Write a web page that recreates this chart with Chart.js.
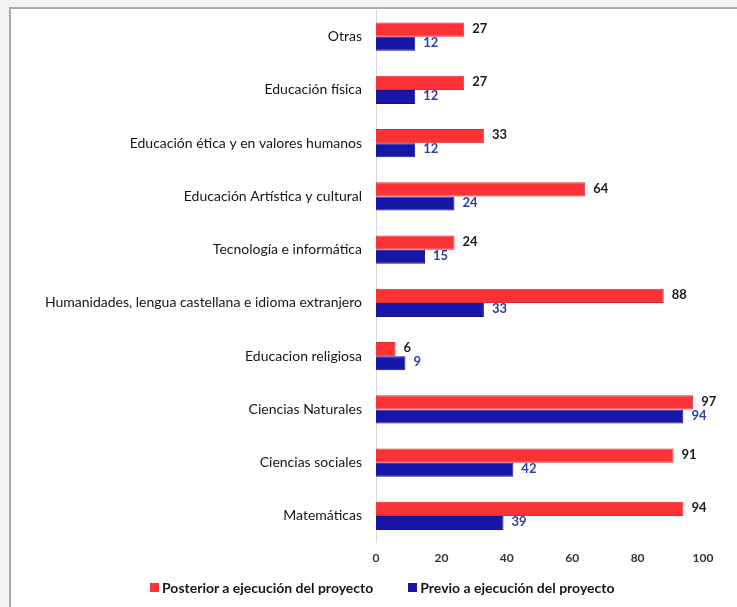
<!DOCTYPE html>
<html>
<head>
<meta charset="utf-8">
<script src="https://cdn.jsdelivr.net/npm/chart.js@4/dist/chart.umd.min.js"></script>
<style>
  html, body { margin: 0; padding: 0; }
  body { width: 737px; height: 607px; background: #f3f3f3; position: relative; overflow: hidden; }
  #marco {
    position: absolute; left: 9px; top: 7px; width: 728px; height: 600px;
    background: #fff; border-left: 2px solid #aaa; border-top: 2px solid #aaa;
  }
  #grafico { position: absolute; left: 0; top: 0; }
  #leyenda {
    position: absolute; left: 150px; top: 577px; height: 20px;
    display: flex; align-items: center; gap: 35px;
    font: bold 14px Lato, 'Open Sans', sans-serif; color: #151515;
  }
  #leyenda .item { display: flex; align-items: center; gap: 3px; white-space: nowrap; }
  #leyenda .caja { width: 9px; height: 9px; }
</style>
</head>
<body>
<div id="marco"></div>
<canvas id="grafico" width="737" height="607"></canvas>
<div id="leyenda"></div>
<script>
// areas evaluadas, de arriba hacia abajo
const areas = [
  'Otras',
  'Educación física',
  'Educación ética y en valores humanos',
  'Educación Artística y cultural',
  'Tecnología e informática',
  'Humanidades, lengua castellana e idioma extranjero',
  'Educacion religiosa',
  'Ciencias Naturales',
  'Ciencias sociales',
  'Matemáticas'
];
const posterior = [27, 27, 33, 64, 24, 88, 6, 97, 91, 94];
const previo    = [12, 12, 12, 24, 15, 33, 9, 94, 42, 39];
const ticksX    = [0, 20, 40, 60, 80, 100];

const FUENTE = "Lato, 'Open Sans', sans-serif";

// escribe el valor al final de cada barra
const etiquetasValor = {
  id: 'etiquetasValor',
  afterDatasetsDraw(chart) {
    const ctx = chart.ctx;
    ctx.save();
    ctx.font = 'bold 13px ' + FUENTE;
    ctx.textAlign = 'left';
    ctx.textBaseline = 'middle';
    chart.data.datasets.forEach((ds, i) => {
      const meta = chart.getDatasetMeta(i);
      ctx.fillStyle = ds.colorEtiqueta;
      meta.data.forEach((bar, j) => {
        ctx.fillText(ds.data[j], bar.x + 8, bar.y - 1);
      });
    });
    ctx.restore();
  }
};

const grafico = new Chart(document.getElementById('grafico').getContext('2d'), {
  type: 'bar',
  data: {
    labels: areas,
    datasets: [
      {
        label: 'Posterior a ejecución del proyecto',
        data: posterior,
        backgroundColor: '#fb3236',
        borderColor: '#e02a2e',
        borderWidth: 1,
        colorEtiqueta: '#1b1b1b'
      },
      {
        label: 'Previo a ejecución del proyecto',
        data: previo,
        backgroundColor: '#1616a8',
        borderColor: '#10108a',
        borderWidth: 1,
        colorEtiqueta: '#2a3ea6'
      }
    ]
  },
  plugins: [etiquetasValor],
  options: {
    responsive: false,
    animation: false,
    indexAxis: 'y',
    layout: { padding: { left: 0, right: 34, top: 10, bottom: 34 } },
    datasets: { bar: { categoryPercentage: 0.53, barPercentage: 1.0 } },
    scales: {
      x: {
        min: 0, max: 100,
        afterBuildTicks(scale) { scale.ticks = ticksX.map(v => ({ value: v })); },
        grid: { display: false, drawTicks: false },
        border: { display: false },
        ticks: { padding: 8, color: '#333', font: { family: FUENTE, size: 12, weight: 'bold' } }
      },
      y: {
        grid: { display: false, drawTicks: false },
        border: { display: true, color: '#d6d6d6', width: 1 },
        afterFit(scale) {
          scale.width = 376;
          // sin margen extra arriba/abajo por las etiquetas
          scale.paddingTop = 0;
          scale.paddingBottom = 0;
        },
        ticks: { padding: 14, color: '#151515', font: { family: FUENTE, size: 14 } }
      }
    },
    plugins: {
      tooltip: { enabled: false },
      legend: { display: false }
    }
  }
});

// leyenda inferior a partir de las series
const leyenda = document.getElementById('leyenda');
grafico.data.datasets.forEach(ds => {
  const item = document.createElement('div');
  item.className = 'item';
  const caja = document.createElement('span');
  caja.className = 'caja';
  caja.style.background = ds.backgroundColor;
  item.appendChild(caja);
  item.appendChild(document.createTextNode(ds.label));
  leyenda.appendChild(item);
});
</script>
</body>
</html>
